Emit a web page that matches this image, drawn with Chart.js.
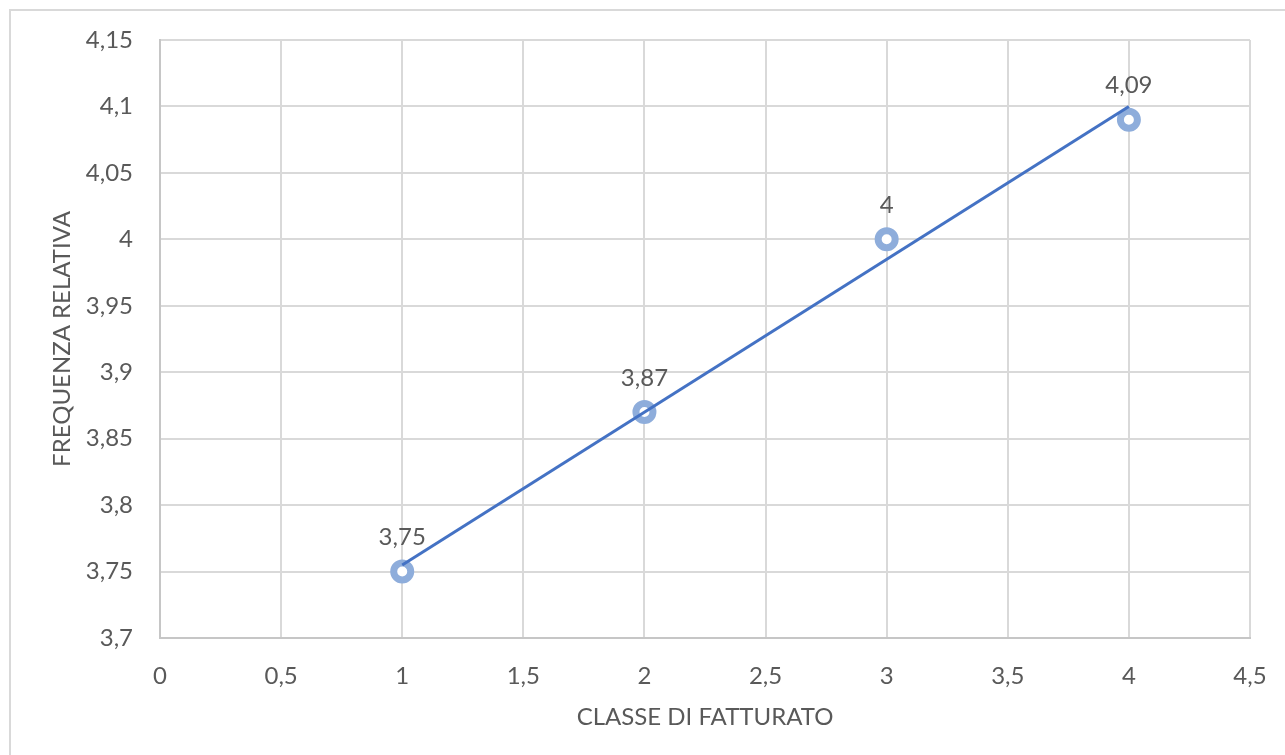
<!DOCTYPE html>
<html>
<head>
<meta charset="utf-8">
<script src="https://cdn.jsdelivr.net/npm/chart.js@4/dist/chart.umd.min.js"></script>
<style>
  html, body { margin: 0; padding: 0; background: #ffffff; }
  body { width: 1285px; height: 755px; overflow: hidden; position: relative; }
  #frame { position: absolute; left: 9px; top: 9px; width: 1400px; height: 900px;
           border: 2px solid #d9d9d9; box-sizing: border-box; }
  #wrap { position: absolute; left: 0; top: 0; width: 1285px; height: 755px; }
</style>
</head>
<body>
<div id="frame"></div>
<div id="wrap"><canvas id="chart" width="1285" height="755"></canvas></div>
<script>
// Classi di fatturato and the measured value for each class
const classi = [1, 2, 3, 4];
const valori = [3.75, 3.87, 4, 4.09];

// Axis ranges and tick spacing
const xTicks = [0, 0.5, 1, 1.5, 2, 2.5, 3, 3.5, 4, 4.5];
const yTicks = [3.7, 3.75, 3.8, 3.85, 3.9, 3.95, 4, 4.05, 4.1, 4.15];

const xTitle = 'CLASSE DI FATTURATO';
const yTitle = 'FREQUENZA RELATIVA';

// Italian number format: comma as decimal separator
function fmt(v) {
  const r = Math.round(v * 100) / 100;
  return String(r).replace('.', ',');
}

// Least-squares linear trend over the data
function linearFit(xs, ys) {
  const n = xs.length;
  const mx = xs.reduce((a, b) => a + b, 0) / n;
  const my = ys.reduce((a, b) => a + b, 0) / n;
  let sxy = 0, sxx = 0;
  for (let i = 0; i < n; i++) {
    sxy += (xs[i] - mx) * (ys[i] - my);
    sxx += (xs[i] - mx) * (xs[i] - mx);
  }
  const m = sxy / sxx;
  return { m: m, q: my - m * mx };
}
const fit = linearFit(classi, valori);
const xMin = Math.min(...classi), xMax = Math.max(...classi);
const trend = [
  { x: xMin, y: fit.q + fit.m * xMin },
  { x: xMax, y: fit.q + fit.m * xMax }
];

const points = classi.map((c, i) => ({ x: c, y: valori[i] }));

const textColor = '#595959';
const fontFamily = "Lato, 'Open Sans', sans-serif";
const fontSize = 24;

// Value labels drawn above each point
const valueLabels = {
  id: 'valueLabels',
  afterDatasetsDraw(chart) {
    const meta = chart.getDatasetMeta(1);
    const ctx = chart.ctx;
    ctx.save();
    ctx.font = fontSize + 'px ' + fontFamily;
    ctx.fillStyle = textColor;
    ctx.textAlign = 'center';
    ctx.textBaseline = 'middle';
    meta.data.forEach((el, i) => {
      ctx.fillText(fmt(valori[i]), el.x, el.y - 34);
    });
    ctx.restore();
  }
};

new Chart(document.getElementById('chart'), {
  type: 'scatter',
  data: {
    datasets: [
      {
        label: 'Tendenza',
        data: trend,
        showLine: true,
        borderColor: '#4472c4',
        borderWidth: 3,
        pointRadius: 0,
        fill: false
      },
      {
        label: 'Frequenza',
        data: points,
        showLine: false,
        pointRadius: 8.5,
        pointBorderWidth: 7,
        pointBackgroundColor: '#ffffff',
        pointBorderColor: '#8eaddb'
      }
    ]
  },
  options: {
    responsive: false,
    animation: false,
    layout: { padding: { left: 0, top: 40, right: 35, bottom: 0 } },
    plugins: {
      legend: { display: false },
      tooltip: { enabled: false }
    },
    scales: {
      x: {
        type: 'linear',
        min: xTicks[0],
        max: xTicks[xTicks.length - 1],
        afterBuildTicks(axis) { axis.ticks = xTicks.map(v => ({ value: v })); },
        afterFit(axis) {
          axis.height = 117;
          axis.paddingLeft = 0;
          axis.paddingRight = 0;
        },
        grid: { color: '#d9d9d9', lineWidth: 2, drawTicks: false },
        border: { color: '#c6c6c6', width: 2 },
        ticks: {
          padding: 24,
          color: textColor,
          font: { size: fontSize, family: fontFamily },
          callback: v => fmt(v)
        },
        title: {
          display: true,
          text: xTitle,
          color: textColor,
          font: { size: fontSize, family: fontFamily },
          padding: { top: 4, bottom: 23 }
        }
      },
      y: {
        type: 'linear',
        min: yTicks[0],
        max: yTicks[yTicks.length - 1],
        afterBuildTicks(axis) { axis.ticks = yTicks.map(v => ({ value: v })); },
        afterFit(axis) {
          axis.width = 160;
          axis.paddingTop = 0;
          axis.paddingBottom = 0;
        },
        grid: { color: '#d9d9d9', lineWidth: 2, drawTicks: false },
        border: { color: '#c6c6c6', width: 2 },
        ticks: {
          padding: 27,
          color: textColor,
          font: { size: fontSize, family: fontFamily },
          callback: v => fmt(v)
        },
        title: {
          display: true,
          text: yTitle,
          color: textColor,
          font: { size: fontSize, family: fontFamily },
          padding: { top: 48, bottom: 0 }
        }
      }
    }
  },
  plugins: [valueLabels]
});
</script>
</body>
</html>
